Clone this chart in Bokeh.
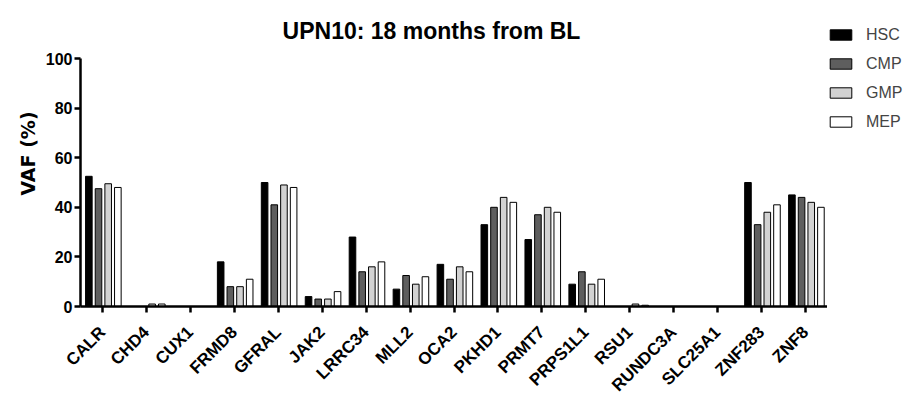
from math import pi

from bokeh.embed import file_html
from bokeh.layouts import row
from bokeh.models import ColumnDataSource, FactorRange, Range1d, Legend, LegendItem, Label
from bokeh.plotting import figure
from bokeh.resources import INLINE
from bokeh.transform import dodge

# Variant allele frequency (%) per gene in each sorted progenitor population
genes = ["CALR", "CHD4", "CUX1", "FRMD8", "GFRAL", "JAK2", "LRRC34", "MLL2", "OCA2",
         "PKHD1", "PRMT7", "PRPS1L1", "RSU1", "RUNDC3A", "SLC25A1", "ZNF283", "ZNF8"]
hsc = [52.5, 0, 0, 18, 50, 4, 28, 7, 17, 33, 27, 9, 0, 0, 0, 50, 45]
cmp_ = [47.5, 0, 0, 8, 41, 3, 14, 12.5, 11, 40, 37, 14, 0, 0, 0, 33, 44]
gmp = [49.5, 1, 0, 8, 49, 3, 16, 9, 16, 44, 40, 9, 1, 0, 0, 38, 42]
mep = [48, 1, 0, 11, 48, 6, 18, 12, 14, 42, 38, 11, 0.5, 0, 0, 41, 40]
y_ticks = [0, 20, 40, 60, 80, 100]

series = ["HSC", "CMP", "GMP", "MEP"]
fills = ["#000000", "#5e5e5e", "#d2d2d2", "#ffffff"]
offsets = [-0.31, -0.09, 0.13, 0.35]

source = ColumnDataSource(dict(gene=genes, HSC=hsc, CMP=cmp_, GMP=gmp, MEP=mep))

FONT = "Liberation Sans"

# The plot area reaches the top of the canvas so the heading can sit inside it;
# the value axis itself only spans 0-100.
AXIS_PX = 248
FRAME_H = 306
p = figure(
    frame_width=747, frame_height=FRAME_H,
    x_range=FactorRange(*genes), y_range=Range1d(0, 100 * FRAME_H / AXIS_PX),
    output_backend="svg", toolbar_location=None, tools="",
    min_border_left=80, min_border_right=0, min_border_top=0, min_border_bottom=0,
)

for name, color, off in zip(series, fills, offsets):
    p.vbar(x=dodge("gene", off, range=p.x_range), top=name, width=0.15,
           bottom=0, source=source, fill_color=color, line_color="#000000",
           line_width=1)

p.add_layout(Label(
    x=351, y=FRAME_H - 30, x_units="screen", y_units="screen",
    text="UPN10: 18 months from BL", text_align="center", text_baseline="alphabetic",
    text_font=FONT, text_font_size="23px", text_font_style="bold",
    text_color="#000000",
))

p.xgrid.grid_line_color = None
p.ygrid.grid_line_color = None
p.outline_line_color = None
p.background_fill_color = "white"
p.border_fill_color = "white"

p.yaxis.ticker = y_ticks
p.yaxis.bounds = (0, 100)
p.yaxis.axis_label = "VAF (%)"
p.yaxis.axis_label_text_font = "DejaVu Sans"
p.yaxis.axis_label_text_font_size = "19px"
p.yaxis.axis_label_text_font_style = "bold"
p.yaxis.axis_label_text_color = "#000000"
p.yaxis.axis_label_standoff = 4

for ax in (p.xaxis, p.yaxis):
    ax.axis_line_width = 2.5
    ax.axis_line_color = "#000000"
    ax.major_tick_line_width = 2.5
    ax.major_tick_line_color = "#000000"
    ax.major_tick_in = 0
    ax.major_tick_out = 6
    ax.minor_tick_line_color = None
    ax.major_label_text_font = FONT
    ax.major_label_text_font_style = "bold"
    ax.major_label_text_color = "#000000"

p.yaxis.major_label_text_font_size = "16px"
p.yaxis.major_label_standoff = 2
p.xaxis.major_label_text_font_size = "17px"
p.xaxis.major_label_orientation = pi / 4
p.xaxis.major_label_standoff = 17

# Legend panel to the right of the chart, with swatches for each population.
# Its renderers share the chart data but are shifted well outside this panel's
# ranges on both axes, so only their legend swatches show.
lg = figure(
    width=82, height=398, output_backend="svg", toolbar_location=None, tools="",
    x_range=FactorRange(*genes), y_range=Range1d(-300, -200),
    x_axis_type=None, y_axis_type=None,
    min_border_left=0, min_border_right=0, min_border_top=0, min_border_bottom=0,
)
lg.outline_line_color = None
lg.xgrid.grid_line_color = None
lg.ygrid.grid_line_color = None

items = []
for name, color in zip(series, fills):
    r = lg.vbar(x=dodge("gene", 100, range=lg.x_range), top=name, width=0.5,
                source=source, fill_color=color, line_color="#000000", line_width=1)
    items.append(LegendItem(label=name, renderers=[r]))

# The panel's frame lines up with the chart's, so the offset is taken from its height
LEGEND_H = 4 * 19 + 3 * 10
legend = Legend(
    items=items, location=(0, FRAME_H - 31 - LEGEND_H),
    glyph_width=27, glyph_height=13, label_standoff=12, label_height=19,
    label_text_font=FONT, label_text_font_size="16px",
    spacing=10, padding=0, margin=0,
    border_line_color=None, background_fill_alpha=0,
)
lg.add_layout(legend, "center")

open("out.html", "w").write(file_html(row(p, lg), INLINE))
